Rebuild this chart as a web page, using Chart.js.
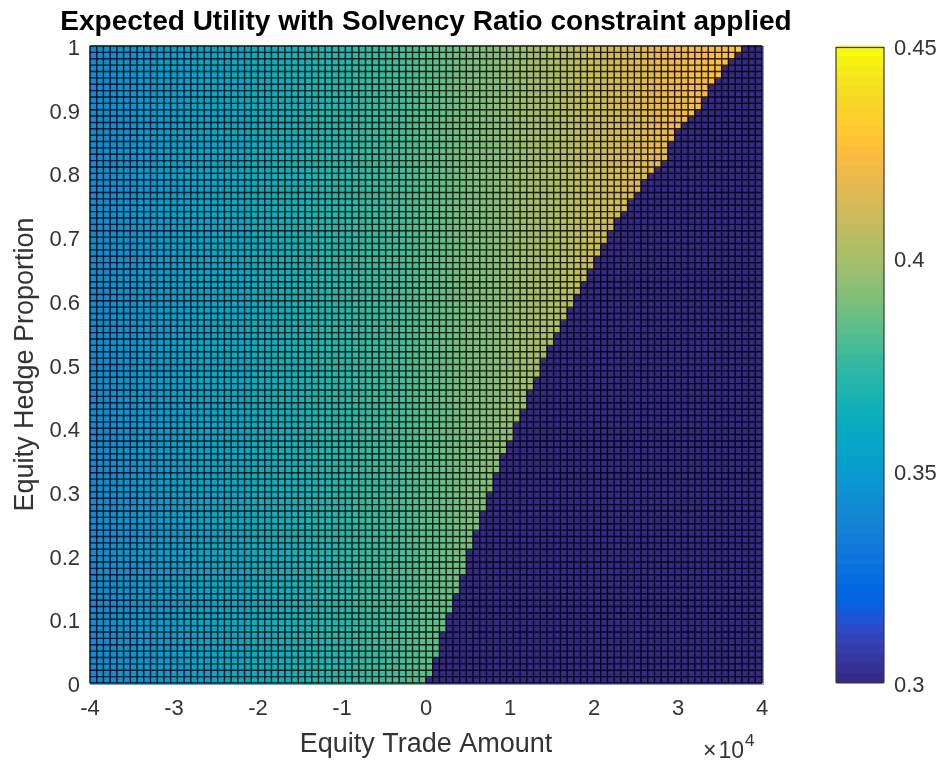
<!DOCTYPE html>
<html>
<head>
<meta charset="utf-8">
<script src="https://cdn.jsdelivr.net/npm/chart.js@4/dist/chart.umd.min.js"></script>
<style>
  html, body { margin: 0; padding: 0; background: #fff; }
  #wrap { width: 943px; height: 767px; position: relative; }
</style>
</head>
<body>
<div id="wrap"><canvas id="chart" width="943" height="767"></canvas></div>
<script>
// Optimisation grid: trade amount -40000:800:40000, hedge proportion 0:0.01:1
const TRADE_START = -40000, TRADE_STEP = 800, TRADE_POINTS = 101;
const HEDGE_START = 0, HEDGE_STEP = 0.01, HEDGE_POINTS = 101;
const tradeAmounts = Array.from({ length: TRADE_POINTS }, (_, i) => TRADE_START + i * TRADE_STEP);
const hedgeProportions = Array.from({ length: HEDGE_POINTS }, (_, j) => +(HEDGE_START + j * HEDGE_STEP).toFixed(2));

// Expected utility for each trade-amount column of the mesh
const utilityByTrade = [
  0.3420, 0.3428, 0.3436, 0.3444, 0.3452, 0.3460, 0.3468, 0.3476, 0.3484, 0.3492,
  0.3500, 0.3508, 0.3516, 0.3524, 0.3532, 0.3540, 0.3548, 0.3556, 0.3564, 0.3572,
  0.3580, 0.3588, 0.3596, 0.3604, 0.3612, 0.3620, 0.3628, 0.3636, 0.3644, 0.3652,
  0.3660, 0.3668, 0.3676, 0.3684, 0.3692, 0.3700, 0.3708, 0.3716, 0.3724, 0.3733,
  0.3742, 0.3751, 0.3760, 0.3768, 0.3777, 0.3786, 0.3795, 0.3804, 0.3812, 0.3821,
  0.3830, 0.3840, 0.3851, 0.3861, 0.3872, 0.3882, 0.3892, 0.3903, 0.3913, 0.3924,
  0.3934, 0.3944, 0.3955, 0.3965, 0.3976, 0.3986, 0.3996, 0.4007, 0.4017, 0.4028,
  0.4038, 0.4048, 0.4059, 0.4069, 0.4080, 0.4090, 0.4100, 0.4109, 0.4119, 0.4128,
  0.4138, 0.4148, 0.4157, 0.4167, 0.4176, 0.4186, 0.4196, 0.4205, 0.4214, 0.4222,
  0.4230, 0.4238, 0.4246, 0.4254, 0.4262, 0.4270, 0.4278, 0.4286, 0.4294, 0.4302
];

// First trade amount that breaks the solvency ratio, for each hedge-proportion row
const solvencyTradeLimit = [
  0,                                   // 0.00
  800, 800, 800,                       // 0.01-0.03
  1600, 1600, 1600, 1600,              // 0.04-0.07
  2400, 2400, 2400,                    // 0.08-0.10
  3200, 3200, 3200,                    // 0.11-0.13
  4000, 4000, 4000,                    // 0.14-0.16
  4800, 4800, 4800, 4800,              // 0.17-0.20
  5600, 5600, 5600,                    // 0.21-0.23
  6400, 6400, 6400,                    // 0.24-0.26
  7200, 7200, 7200,                    // 0.27-0.29
  8000, 8000, 8000,                    // 0.30-0.32
  8800, 8800, 8800,                    // 0.33-0.35
  9600, 9600,                          // 0.36-0.37
  10400, 10400, 10400,                 // 0.38-0.40
  11200, 11200,                        // 0.41-0.42
  12000, 12000, 12000,                 // 0.43-0.45
  12800, 12800,                        // 0.46-0.47
  13600, 13600, 13600,                 // 0.48-0.50
  14400, 14400,                        // 0.51-0.52
  15200, 15200,                        // 0.53-0.54
  16000, 16000,                        // 0.55-0.56
  16800, 16800,                        // 0.57-0.58
  17600, 17600,                        // 0.59-0.60
  18400, 18400,                        // 0.61-0.62
  19200, 19200,                        // 0.63-0.64
  20000, 20000,                        // 0.65-0.66
  20800, 20800,                        // 0.67-0.68
  21600, 21600,                        // 0.69-0.70
  22400, 22400,                        // 0.71-0.72
  23200,                               // 0.73
  24000, 24000,                        // 0.74-0.75
  24800,                               // 0.76
  25600, 25600,                        // 0.77-0.78
  26400,                               // 0.79
  27200,                               // 0.80
  28000,                               // 0.81
  28800, 28800, 28800,                 // 0.82-0.84
  29600, 29600,                        // 0.85-0.86
  30400,                               // 0.87
  31200,                               // 0.88
  32000,                               // 0.89
  32800, 32800,                        // 0.90-0.91
  33600, 33600,                        // 0.92-0.93
  34400,                               // 0.94
  35200, 35200,                        // 0.95-0.96
  36000,                               // 0.97
  36800,                               // 0.98
  37600                                // 0.99
];

// Value shown where the constraint is violated, and the colour limits
const CONSTRAINED_UTILITY = 0.3;
const COLOR_LIMITS = [0.3, 0.45];

// Tick labels
const xTickValues = [-4, -3, -2, -1, 0, 1, 2, 3, 4];           // ×10^4
const yTickValues = [0, 0.1, 0.2, 0.3, 0.4, 0.5, 0.6, 0.7, 0.8, 0.9, 1];
const colorbarTickValues = [0.3, 0.35, 0.4, 0.45];

const TITLE = 'Expected Utility with Solvency Ratio constraint applied';

// parula, 64 entries
const parula = [
  [0.2081,0.1663,0.5292],[0.2116,0.1898,0.5777],[0.2123,0.2138,0.6270],[0.2081,0.2386,0.6771],
  [0.1959,0.2645,0.7279],[0.1707,0.2919,0.7792],[0.1253,0.3242,0.8303],[0.0591,0.3598,0.8683],
  [0.0117,0.3875,0.8820],[0.0060,0.4086,0.8828],[0.0165,0.4266,0.8786],[0.0329,0.4430,0.8720],
  [0.0498,0.4586,0.8641],[0.0629,0.4737,0.8554],[0.0723,0.4887,0.8467],[0.0779,0.5040,0.8384],
  [0.0793,0.5200,0.8312],[0.0749,0.5375,0.8263],[0.0641,0.5570,0.8240],[0.0488,0.5772,0.8228],
  [0.0343,0.5966,0.8199],[0.0265,0.6137,0.8135],[0.0239,0.6287,0.8038],[0.0231,0.6418,0.7913],
  [0.0228,0.6535,0.7768],[0.0267,0.6642,0.7607],[0.0384,0.6743,0.7436],[0.0590,0.6838,0.7254],
  [0.0843,0.6928,0.7062],[0.1133,0.7015,0.6859],[0.1453,0.7098,0.6646],[0.1801,0.7177,0.6424],
  [0.2178,0.7250,0.6193],[0.2586,0.7317,0.5954],[0.3022,0.7376,0.5712],[0.3482,0.7424,0.5473],
  [0.3953,0.7459,0.5244],[0.4420,0.7481,0.5033],[0.4871,0.7491,0.4840],[0.5300,0.7491,0.4661],
  [0.5709,0.7485,0.4494],[0.6099,0.7473,0.4337],[0.6473,0.7456,0.4188],[0.6834,0.7435,0.4044],
  [0.7184,0.7411,0.3905],[0.7525,0.7384,0.3768],[0.7858,0.7356,0.3633],[0.8185,0.7327,0.3498],
  [0.8507,0.7299,0.3360],[0.8824,0.7274,0.3217],[0.9139,0.7258,0.3063],[0.9450,0.7261,0.2886],
  [0.9739,0.7314,0.2666],[0.9938,0.7455,0.2403],[0.9990,0.7653,0.2164],[0.9955,0.7861,0.1967],
  [0.9880,0.8066,0.1794],[0.9789,0.8271,0.1633],[0.9697,0.8481,0.1475],[0.9626,0.8705,0.1309],
  [0.9589,0.8949,0.1132],[0.9598,0.9218,0.0948],[0.9661,0.9514,0.0755],[0.9763,0.9831,0.0538]
].map(c => `rgb(${Math.round(c[0]*255)},${Math.round(c[1]*255)},${Math.round(c[2]*255)})`);

function colourFor(v) {
  const [lo, hi] = COLOR_LIMITS;
  let k = Math.floor((v - lo) / (hi - lo) * parula.length);
  k = Math.max(0, Math.min(parula.length - 1, k));
  return parula[k];
}

const FONT = "'Liberation Sans', Arial, Helvetica, sans-serif";
const TEXT = '#333333';

// Flat-shaded surface with black mesh edges, plus the colour bar
const surfacePlugin = {
  id: 'surfaceMesh',
  beforeDatasetsDraw(chart) {
    const { ctx, chartArea: a, scales: { x, y, y2 } } = chart;
    ctx.save();
    for (let j = 0; j < hedgeProportions.length - 1; j++) {
      const yb = y.getPixelForValue(hedgeProportions[j]);
      const yt = y.getPixelForValue(hedgeProportions[j + 1]);
      for (let i = 0; i < tradeAmounts.length - 1; i++) {
        const xl = x.getPixelForValue(tradeAmounts[i]);
        const xr = x.getPixelForValue(tradeAmounts[i + 1]);
        const v = tradeAmounts[i] < solvencyTradeLimit[j] ? utilityByTrade[i] : CONSTRAINED_UTILITY;
        ctx.fillStyle = colourFor(v);
        ctx.fillRect(xl - 0.5, yt - 0.5, xr - xl + 1, yb - yt + 1);
      }
    }
    ctx.strokeStyle = 'rgba(0,0,0,0.85)';
    ctx.lineWidth = 1.4;
    ctx.beginPath();
    tradeAmounts.forEach(t => {
      const px = x.getPixelForValue(t);
      ctx.moveTo(px, a.top); ctx.lineTo(px, a.bottom);
    });
    hedgeProportions.forEach(h => {
      const py = y.getPixelForValue(h);
      ctx.moveTo(a.left, py); ctx.lineTo(a.right, py);
    });
    ctx.stroke();

    // axes box edge
    ctx.strokeStyle = '#9a9a9a';
    ctx.lineWidth = 1;
    ctx.beginPath();
    ctx.moveTo(a.left, a.bottom + 1.5); ctx.lineTo(a.right + 1.5, a.bottom + 1.5); ctx.lineTo(a.right + 1.5, a.top);
    ctx.stroke();

    // colour bar
    const cbLeft = a.right + 74, cbWidth = 48;
    const [lo, hi] = COLOR_LIMITS;
    for (let k = 0; k < parula.length; k++) {
      const v0 = lo + (hi - lo) * k / parula.length;
      const v1 = lo + (hi - lo) * (k + 1) / parula.length;
      const p0 = y2.getPixelForValue(v0), p1 = y2.getPixelForValue(v1);
      ctx.fillStyle = parula[k];
      ctx.fillRect(cbLeft, p1 - 0.5, cbWidth, p0 - p1 + 1);
    }
    ctx.strokeStyle = '#3a3a3a';
    ctx.lineWidth = 1.2;
    const top = y2.getPixelForValue(hi) + 1.5, bottom = y2.getPixelForValue(lo) - 1;
    ctx.strokeRect(cbLeft, top, cbWidth, bottom - top);
    ctx.restore();
  },
  afterDraw(chart) {
    const { ctx, chartArea: a } = chart;
    ctx.save();
    // title, centred over the axes
    ctx.fillStyle = '#000';
    ctx.textAlign = 'center';
    ctx.textBaseline = 'middle';
    ctx.font = `bold 28px ${FONT}`;
    ctx.fillText(TITLE, (a.left + a.right) / 2, 22);

    // exponent of the trade-amount axis
    ctx.fillStyle = TEXT;
    ctx.textBaseline = 'alphabetic';
    ctx.textAlign = 'left';
    const base = 758;
    let px = a.right - 59;
    ctx.font = `23px ${FONT}`;
    ctx.fillText('\u00d7', px, base);
    px += ctx.measureText('\u00d7').width + 2;
    ctx.fillText('10', px, base);
    px += ctx.measureText('10').width + 1;
    ctx.font = `17px ${FONT}`;
    ctx.fillText('4', px, base - 12);
    ctx.restore();
  }
};

const tickFont = { family: FONT, size: 22 };
const labelFont = { family: FONT, size: 27 };
const fmt = v => String(+(+v).toFixed(2));

new Chart(document.getElementById('chart'), {
  type: 'scatter',
  data: { datasets: [{ data: [], pointRadius: 0 }] },
  options: {
    responsive: false,
    animation: false,
    layout: { padding: { top: 46, left: 0, right: 0, bottom: 0 } },
    plugins: {
      legend: { display: false },
      tooltip: { enabled: false },
      title: { display: false }
    },
    scales: {
      x: {
        type: 'linear', min: -40000, max: 40000,
        afterBuildTicks: s => { s.ticks = xTickValues.map(v => ({ value: v * 10000 })); },
        ticks: { callback: v => fmt(v / 10000), color: TEXT, font: tickFont, padding: 13, maxRotation: 0 },
        grid: { display: false, drawTicks: false },
        border: { display: false },
        title: { display: true, text: 'Equity Trade Amount', color: TEXT, font: labelFont, padding: { top: 0, bottom: 6 } },
        afterFit: s => { s.height = 84; s.paddingLeft = 0; s.paddingRight = 0; }
      },
      y: {
        type: 'linear', min: 0, max: 1, position: 'left',
        afterBuildTicks: s => { s.ticks = yTickValues.map(v => ({ value: v })); },
        ticks: { callback: v => fmt(v), color: TEXT, font: tickFont, padding: 10, labelOffset: 3 },
        grid: { display: false, drawTicks: false },
        border: { display: false },
        title: { display: true, text: 'Equity Hedge Proportion', color: TEXT, font: labelFont, padding: { top: 9, bottom: 0 } },
        afterFit: s => { s.width = 90; s.paddingTop = 0; s.paddingBottom = 0; }
      },
      y2: {
        type: 'linear', min: COLOR_LIMITS[0], max: COLOR_LIMITS[1], position: 'right',
        afterBuildTicks: s => { s.ticks = colorbarTickValues.map(v => ({ value: v })); },
        ticks: { callback: v => fmt(v), color: TEXT, font: tickFont, padding: 132, labelOffset: 3 },
        grid: { display: false, drawTicks: false },
        border: { display: false },
        afterFit: s => { s.width = 181; s.paddingTop = 0; s.paddingBottom = 0; }
      }
    }
  },
  plugins: [surfacePlugin]
});
</script>
</body>
</html>
